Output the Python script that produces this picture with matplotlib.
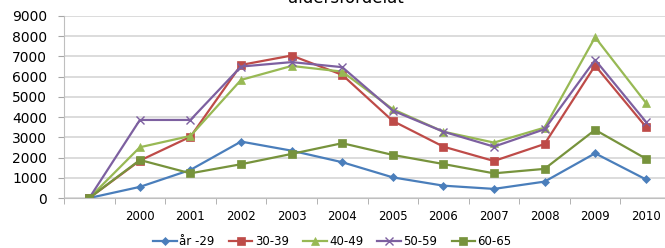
import matplotlib.pyplot as plt
import numpy as np

kategorier = ['', '2000', '2001', '2002', '2003', '2004', '2005', '2006', '2007', '2008', '2009', '2010']
ar_29 = [0, 550, 1390, 2790, 2340, 1770, 1020, 610, 450, 810, 2210, 925]
ar_30_39 = [0, 1850, 3030, 6580, 7045, 6090, 3810, 2540, 1830, 2670, 6550, 3530]
ar_40_49 = [0, 2510, 3070, 5840, 6530, 6250, 4390, 3280, 2740, 3480, 7950, 4720]
ar_50_59 = [0, 3860, 3860, 6500, 6720, 6470, 4320, 3280, 2540, 3400, 6830, 3780]
ar_60_65 = [0, 1880, 1220, 1670, 2180, 2710, 2130, 1680, 1220, 1440, 3370, 1950]

serier = [
    ('år -29', ar_29, '#4A7EBB', 'D', 4),
    ('30-39', ar_30_39, '#BE4B48', 's', 6),
    ('40-49', ar_40_49, '#98B954', '^', 6),
    ('50-59', ar_50_59, '#7D60A0', 'x', 6),
    ('60-65', ar_60_65, '#77933C', 's', 6),
]

fig = plt.figure(figsize=(6.65, 2.48), dpi=100)
ax = fig.add_axes([64 / 665, 50 / 248, 607 / 665, 182 / 248])

x = np.arange(len(kategorier))
for namn, y, farg, mark, ms in serier:
    ax.plot(x, y, color=farg, lw=1.6, marker=mark, markersize=ms, label=namn,
            markeredgewidth=1.0 if mark == 'x' else 0.5)

ax.set_xlim(-0.5, len(kategorier) - 0.5)
ax.set_ylim(0, 9000)
ax.set_yticks(np.arange(0, 9001, 1000))
ax.set_xticks(x)
ax.set_xticklabels(kategorier, fontsize=8.5)
ax.set_xticks(np.arange(-0.5, len(kategorier), 1), minor=True)
ax.tick_params(axis='x', which='major', length=0, pad=9)
ax.tick_params(axis='x', which='minor', length=4, color='#A6A6A6', direction='out')
ax.tick_params(axis='y', length=4, color='#A6A6A6', labelsize=10, pad=8)
ax.grid(axis='y', color='#D9D9D9', lw=1.3)
ax.set_axisbelow(True)
for s in ['top', 'right']:
    ax.spines[s].set_visible(False)
ax.spines['left'].set_color('#BFBFBF')
ax.spines['bottom'].set_color('#BFBFBF')

# titeln är avskuren i originalet
fig.text(0.52, 0.988, 'åldersfördelat', ha='center', va='baseline', fontsize=12)

fig.legend(loc='center', bbox_to_anchor=(0.5, 0.026), ncol=5, frameon=False,
           fontsize=8.5, handlelength=2, handletextpad=0.2, columnspacing=1.2,
           borderpad=0)

fig.savefig('out.png', dpi=100)
